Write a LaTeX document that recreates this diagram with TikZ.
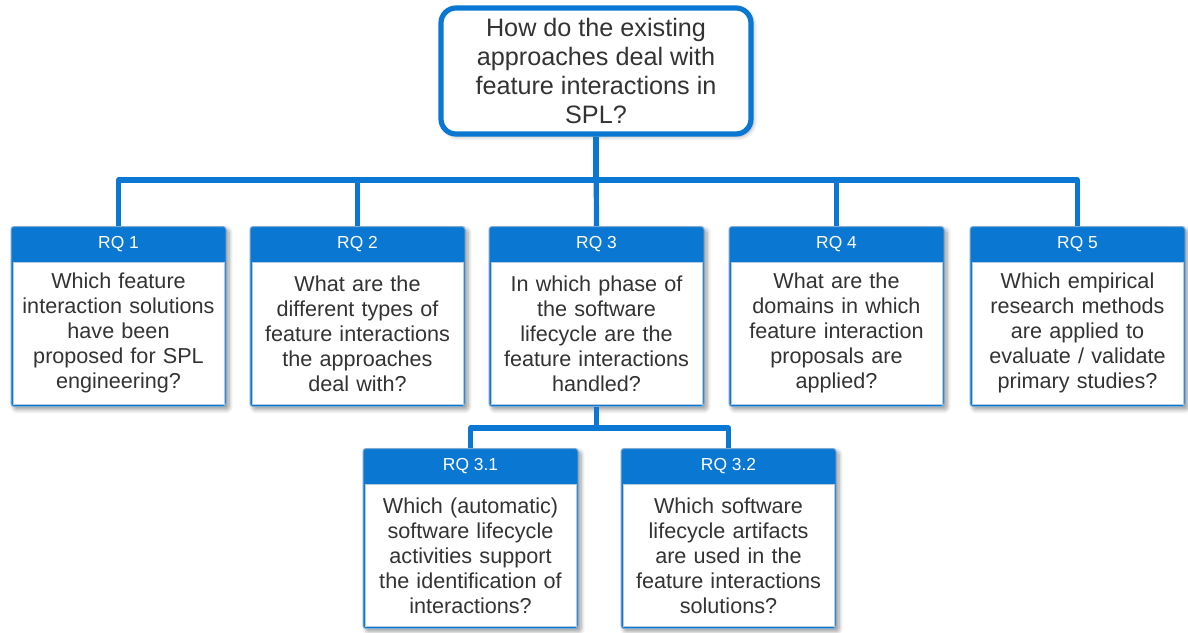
\documentclass[tikz,border=0pt]{standalone}
\usepackage{fontspec}
\setmainfont{Liberation Sans}
\usetikzlibrary{calc,shadows.blur}
\definecolor{rqblue}{HTML}{0A78D2}
\definecolor{rqtext}{HTML}{333333}
\definecolor{rqedge}{HTML}{7FA9CF}

\tikzset{
  conn/.style={draw=rqblue, line width=2.6pt, line join=round},
  mainq/.style={draw=rqblue, line width=2.6pt, fill=white, rounded corners=7.5pt,
    minimum width=155pt, minimum height=63pt, inner sep=0pt, align=center,
    text=rqtext, font=\fontsize{12.6}{14.5}\selectfont,
    blur shadow={shadow xshift=1.2pt, shadow yshift=-1.2pt, shadow blur steps=6, shadow opacity=35}},
  rqouter/.style={fill=rqblue, draw=rqedge, line width=0.5pt, rounded corners=1.5pt,
    minimum width=107.5pt, minimum height=90pt, inner sep=0pt,
    blur shadow={shadow xshift=1.5pt, shadow yshift=-1.5pt, shadow blur steps=6, shadow opacity=40}},
  rqhead/.style={text=white, font=\fontsize{8.7}{10}\selectfont, inner sep=0pt},
  rqbody/.style={fill=white, draw=rqedge!60, line width=0.3pt, anchor=north,
    text width=105.5pt, minimum height=71pt, inner xsep=0pt, inner ysep=0pt,
    align=center, text=rqtext, font=\fontsize{10.8}{12.5}\selectfont}
}

% research-question box: name, centre x, top y, title, question
\newcommand\rqbox[5]{%
  \node[rqouter, anchor=north] (#1) at (#2,#3) {};
  \node[rqhead] (#1h) at ($(#1.north)+(0,-9pt)$) {#4};
  \node[rqbody] (#1b) at ($(#1.north)+(0,-18pt)$) {#5};
}

\begin{document}
\begin{tikzpicture}[x=0.5pt, y=-0.5pt]
\useasboundingbox (0,0) rectangle (1188,632);

% overall question
\node[mainq] (top) at (596,71) {How do the existing\\approaches deal with\\feature interactions in\\SPL?};

% research questions
\rqbox{q1}{118.5}{226}{RQ 1}{Which feature\\interaction solutions\\have been\\proposed for SPL\\engineering?}
\rqbox{q2}{357.5}{226}{RQ 2}{What are the\\different types of\\feature interactions\\the approaches\\deal with?}
\rqbox{q3}{596.5}{226}{RQ 3}{In which phase of\\the software\\lifecycle are the\\feature interactions\\handled?}
\rqbox{q4}{836.5}{226}{RQ 4}{What are the\\domains in which\\feature interaction\\proposals are\\applied?}
\rqbox{q5}{1077.5}{226}{RQ 5}{Which empirical\\research methods\\are applied to\\evaluate / validate\\primary studies?}
\rqbox{q31}{470.5}{448}{RQ 3.1}{Which (automatic)\\software lifecycle\\activities support\\the identification of\\interactions?}
\rqbox{q32}{728.5}{448}{RQ 3.2}{Which software\\lifecycle artifacts\\are used in the\\feature interactions\\solutions?}

% tree connectors
\coordinate (bus) at (0,180);
\coordinate (bus2) at (0,428);
\foreach \n in {q1,q2,q4,q5} {
  \draw[conn] (top.south) -- (top.south |- bus) -| (\n.north);
}
\draw[conn] (top.south) -- (q3.north);
\draw[conn] (q3.south) -- (q3.south |- bus2) -| (q31.north);
\draw[conn] (q3.south) -- (q3.south |- bus2) -| (q32.north);
\end{tikzpicture}
\end{document}
